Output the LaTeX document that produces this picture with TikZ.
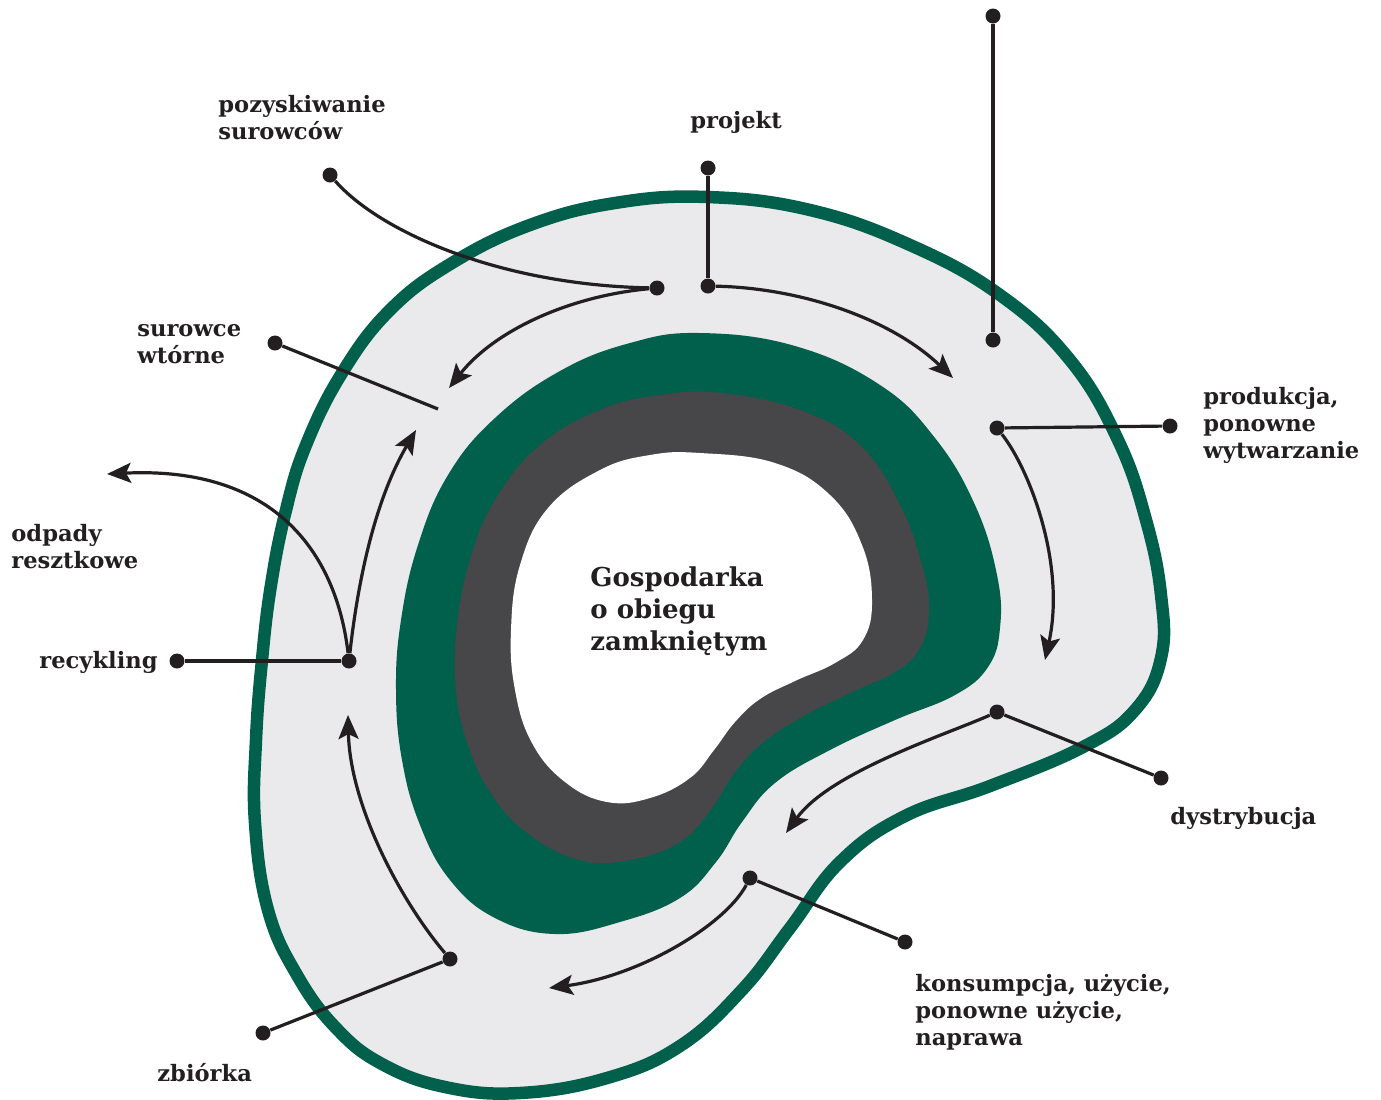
\documentclass[tikz,border=0pt]{standalone}
\usepackage{fontspec}
\setmainfont{DejaVu Serif}
\usetikzlibrary{arrows.meta}
\definecolor{ringgreen}{HTML}{00604B}
\definecolor{ringgray}{HTML}{474749}
\definecolor{ringlight}{HTML}{EAEAEC}
\definecolor{ink}{HTML}{231F20}

\begin{document}
\begin{tikzpicture}[x=0.5pt, y=-0.5pt,
  dot/.style={circle, fill=ink, inner sep=0pt, minimum size=7.5pt},
  lbl/.style={font=\bfseries\fontsize{11.3}{13.5}\selectfont, text=ink, align=left, inner sep=0pt, anchor=base west},
  flow/.style={ink, line width=1.6pt, -{Stealth[length=12pt, width=10pt, inset=2.5pt]}},
  lead/.style={ink, line width=1.6pt}]
  \useasboundingbox (0, 0) rectangle (1381, 1099);

  % rings
  \draw[ringgreen, line width=6.25pt, fill=ringlight] plot[smooth cycle, tension=0.7] coordinates {
    (707,197) (810,210) (910,245) (1000,295) (1070,360) (1118,440) (1146,520)
    (1161,595) (1161,658) (1135,710) (1083,747) (990,786) (905,816) (840,862)
    (790,928) (742,990) (680,1046) (607,1078) (520,1093) (445,1087) (382,1064)
    (336,1028) (297,975) (268,910) (255,823) (256,740) (262,660) (271,585)
    (286,510) (306,445) (342,373) (390,310) (452,263) (530,225) (615,203)};
  \fill[ringgreen] plot[smooth cycle, tension=0.7] coordinates {
    (700,333) (795,346) (880,385) (935,438) (975,505) (997,575) (1000,628)
    (988,667) (955,695) (895,720) (830,750) (775,783) (742,822) (716,862)
    (680,898) (620,922) (555,934) (495,918) (450,880) (420,825) (402,760)
    (396,690) (401,620) (418,545) (448,475) (495,418) (560,371) (630,343)};
  \fill[ringgray] plot[smooth cycle, tension=0.7] coordinates {
    (720,393) (800,410) (860,445) (900,505) (922,565) (929,610) (920,648)
    (895,672) (850,693) (800,718) (760,745) (733,775) (712,808) (680,842)
    (630,860) (580,860) (530,835) (492,795) (468,745) (456,690) (457,625)
    (470,560) (495,500) (540,445) (600,410) (660,395)};
  \fill[white] plot[smooth cycle, tension=0.7] coordinates {
    (700,453) (775,463) (830,495) (862,545) (872,600) (863,640) (835,663)
    (795,681) (760,699) (735,722) (714,750) (690,778) (650,798) (607,802)
    (565,782) (532,743) (515,690) (511,630) (520,565) (548,508) (600,470)
    (650,455)};

  % dots
  \node[dot] (pozOut) at (330, 175) {};
  \node[dot] (pozIn) at (657, 288) {};
  \node[dot] (projOut) at (708, 168) {};
  \node[dot] (projIn) at (708, 286) {};
  \node[dot] (topOut) at (993, 16) {};
  \node[dot] (topIn) at (993, 340) {};
  \node[dot] (prodIn) at (997, 428) {};
  \node[dot] (prodOut) at (1170, 426) {};
  \node[dot] (dystIn) at (997, 712) {};
  \node[dot] (dystOut) at (1161, 778) {};
  \node[dot] (konsIn) at (750, 878) {};
  \node[dot] (konsOut) at (905, 942) {};
  \node[dot] (zbIn) at (450, 959) {};
  \node[dot] (zbOut) at (263, 1033) {};
  \node[dot] (recIn) at (349, 661) {};
  \node[dot] (recOut) at (177, 661) {};
  \node[dot] (surOut) at (275, 343) {};
  \coordinate (surIn) at (438, 409);

  % arrow ends
  \coordinate (tipPoz) at (449, 388);
  \coordinate (tipProj) at (953, 378);
  \coordinate (tipProd) at (1045, 660);
  \coordinate (tipDyst) at (786, 833);
  \coordinate (tipKons) at (549, 988);
  \coordinate (tipZb) at (348, 715);
  \coordinate (tipRec) at (416, 430);
  \coordinate (tipOdp) at (107, 474);

  % leaders
  \draw[lead] (pozOut) .. controls (380, 232) and (500, 285) .. (pozIn);
  \draw[lead] (projOut) -- (projIn);
  \draw[lead] (topOut) -- (topIn);
  \draw[lead] (prodIn) -- (prodOut);
  \draw[lead] (dystIn) -- (dystOut);
  \draw[lead] (konsIn) -- (konsOut);
  \draw[lead] (zbIn) -- (zbOut);
  \draw[lead] (recIn) -- (recOut);
  \draw[lead] (surOut) -- (surIn);

  % flow arrows
  \draw[flow] (pozIn) .. controls (570, 296) and (495, 330) .. (tipPoz);
  \draw[flow] (projIn) .. controls (800, 288) and (890, 318) .. (tipProj);
  \draw[flow] (prodIn) .. controls (1030, 470) and (1066, 565) .. (tipProd);
  \draw[flow] (dystIn) .. controls (945, 735) and (830, 772) .. (tipDyst);
  \draw[flow] (konsIn) .. controls (725, 925) and (640, 976) .. (tipKons);
  \draw[flow] (zbIn) .. controls (400, 900) and (350, 805) .. (tipZb);
  \draw[flow] (recIn) .. controls (358, 580) and (375, 500) .. (tipRec);
  \draw[flow] (recIn) .. controls (336, 550) and (272, 466) .. (tipOdp);

  % labels (base = last line)
  \node[lbl] (pozLbl) at (218, 139) {pozyskiwanie\\surowców};
  \node[lbl] (projLbl) at (690, 128) {projekt};
  \node[lbl] (surLbl) at (137, 363) {surowce\\wtórne};
  \node[lbl] (prodLbl) at (1203, 458) {produkcja,\\ponowne\\wytwarzanie};
  \node[lbl] (odpLbl) at (11, 568) {odpady\\resztkowe};
  \node[lbl] (recLbl) at (39, 668) {recykling};
  \node[lbl] (dystLbl) at (1170, 824) {dystrybucja};
  \node[lbl] (konsLbl) at (915, 1045) {konsumpcja, użycie,\\ponowne użycie,\\naprawa};
  \node[lbl] (zbLbl) at (157, 1081) {zbiórka};
  \node[lbl, font=\bfseries\fontsize{13}{16}\selectfont] (coreLbl) at (590, 650)
    {Gospodarka\\o obiegu\\zamkniętym};
\end{tikzpicture}
\end{document}
